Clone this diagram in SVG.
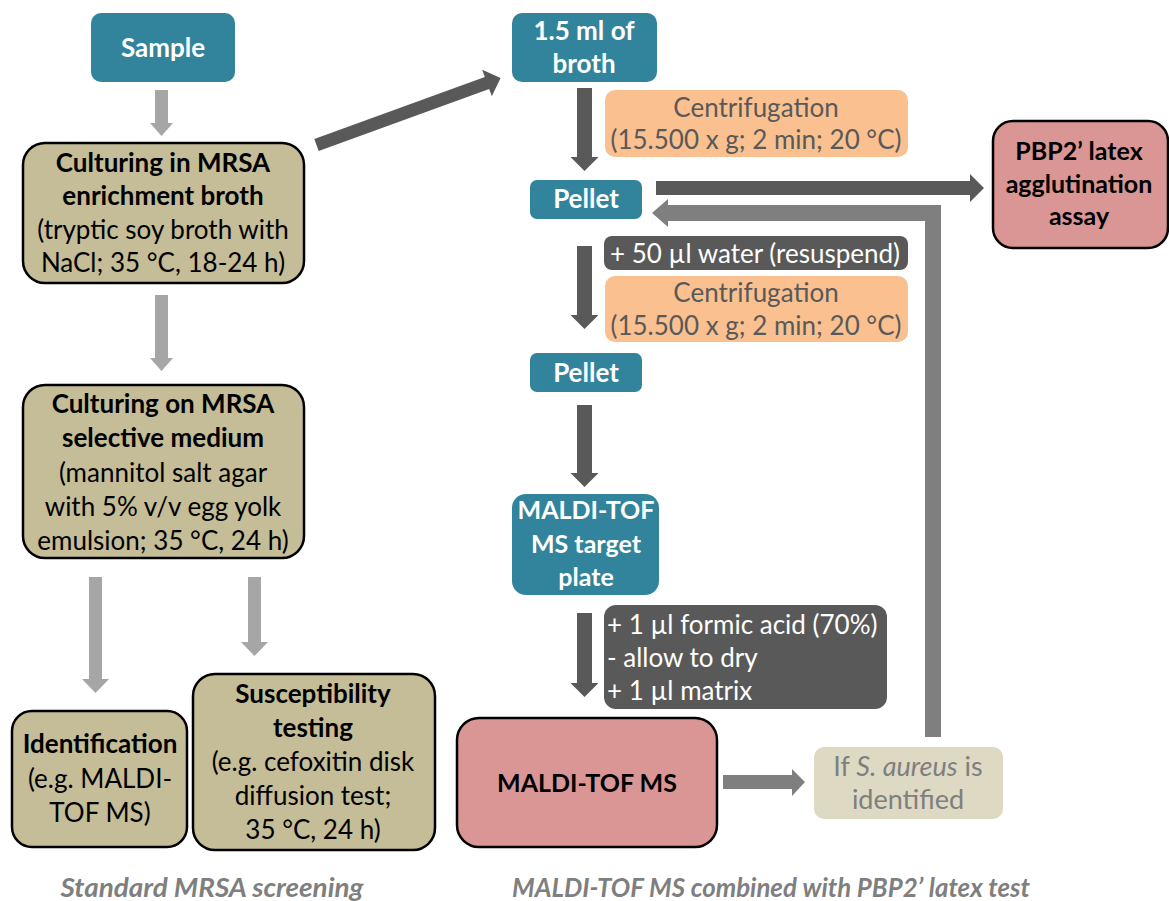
<svg xmlns="http://www.w3.org/2000/svg" width="1169" height="901" viewBox="0 0 1169 901">
<style>
text{font-family:Lato,"Open Sans","Liberation Sans",sans-serif;font-size:26px;text-anchor:middle}
.b{font-weight:bold}
.b25{font-weight:bold;font-size:25px}
.w{fill:#fff}
.k{fill:#000}
.g{fill:#595959}
.lg{fill:#7f7f7f;font-size:27px}
.teal{fill:#31849b}
.tan{fill:#c4bd97;stroke:#000;stroke-width:2.5}
.pink{fill:#d99694;stroke:#000;stroke-width:2.5}
.orange{fill:#fac090}
.dark{fill:#595959}
.cream{fill:#ddd9c3}
.a1{fill:#a6a6a6}
.a2{fill:#595959}
.a3{fill:#7f7f7f}
.foot{font-weight:bold;font-style:italic;fill:#7f7f7f;font-size:27px}
</style>
<g id="connectors">
<polygon class="a1" points="155,90 168,90 168,123 173,123 161.5,136 150,123 155,123"/>
<polygon class="a1" points="155,295 168,295 168,358 173,358 161.5,371 150,358 155,358"/>
<polygon class="a1" points="89,577 102,577 102,679 109,679 95.5,693 82,679 89,679"/>
<polygon class="a1" points="248,577 261,577 261,642 268,642 254.5,656 241,642 248,642"/>
<polygon class="a2" points="314.3,138.9 484.8,76.9 482.2,69.8 500.6,78 491.8,96.2 489.2,89.1 318.7,151.1"/>
<polygon class="a2" points="577,88 592,88 592,157 598.5,157 584.5,171 570.5,157 577,157"/>
<polygon class="a2" points="577,246 592,246 592,315 598.5,315 584.5,329 570.5,315 577,315"/>
<polygon class="a2" points="577,405 592,405 592,473 598.5,473 584.5,487 570.5,473 577,473"/>
<polygon class="a2" points="577,613 592,613 592,683 598.5,683 584.5,697 570.5,683 577,683"/>
<polygon class="a2" points="656,181 970,181 970,174 984,188 970,202 970,195 656,195"/>
<polygon class="a3" points="941,737 941,205 668,205 668,199 652,213 668,227 668,221 925,221 925,737"/>
<polygon class="a3" points="723,775 792,775 792,769 805,782 792,796 792,789 723,789"/>
</g>
<g id="sample">
<rect class="teal" x="91" y="13" width="144" height="69" rx="10"/>
<text class="b w" x="163" y="57">Sample</text>
</g>
<g id="enrichment">
<rect class="tan" x="23" y="143" width="281" height="140" rx="22"/>
<text class="b k" x="163" y="172">Culturing in MRSA</text>
<text class="b k" x="163" y="205">enrichment broth</text>
<text class="k" x="163" y="239">(tryptic soy broth with</text>
<text class="k" x="163" y="272">NaCl; 35 °C, 18-24 h)</text>
</g>
<g id="selective">
<rect class="tan" x="23" y="385" width="281" height="173" rx="22"/>
<text class="b k" x="163" y="413">Culturing on MRSA</text>
<text class="b k" x="163" y="447">selective medium</text>
<text class="k" x="163" y="482">(mannitol salt agar</text>
<text class="k" x="163" y="516">with 5% v/v egg yolk</text>
<text class="k" x="163" y="550">emulsion; 35 °C, 24 h)</text>
</g>
<g id="identification">
<rect class="tan" x="12" y="711" width="175" height="136" rx="20"/>
<text class="b k" x="100" y="753">Identification</text>
<text class="k" x="100" y="788">(e.g. MALDI-</text>
<text class="k" x="100" y="822">TOF MS)</text>
</g>
<g id="susceptibility">
<rect class="tan" x="193" y="674" width="242" height="176" rx="22"/>
<text class="b k" x="313" y="703">Susceptibility</text>
<text class="b k" x="313" y="737">testing</text>
<text class="k" x="313" y="771">(e.g. cefoxitin disk</text>
<text class="k" x="313" y="805">diffusion test;</text>
<text class="k" x="313" y="839">35 °C, 24 h)</text>
</g>
<g id="broth">
<rect class="teal" x="512" y="13" width="145" height="69" rx="10"/>
<text class="b w" x="584" y="40">1.5 ml of</text>
<text class="b w" x="584" y="73">broth</text>
</g>
<g id="centrifugation1">
<rect class="orange" x="605" y="90" width="303" height="67" rx="10"/>
<text class="g" x="756" y="117">Centrifugation</text>
<text class="g" x="756" y="149">(15.500 x g; 2 min; 20 °C)</text>
</g>
<g id="pellet1">
<rect class="teal" x="530" y="180" width="112" height="39" rx="7"/>
<text class="b w" x="586" y="208">Pellet</text>
</g>
<g id="pbp2">
<rect class="pink" x="993" y="121" width="175" height="127" rx="20"/>
<text class="b25 k" x="1079" y="160">PBP2’ latex</text>
<text class="b25 k" x="1079" y="193">agglutination</text>
<text class="b25 k" x="1079" y="225">assay</text>
</g>
<g id="water">
<rect class="dark" x="604" y="236" width="304" height="34" rx="8"/>
<text class="w" x="755" y="263">+ 50 µl water (resuspend)</text>
</g>
<g id="centrifugation2">
<rect class="orange" x="605" y="276" width="303" height="66" rx="10"/>
<text class="g" x="756" y="302">Centrifugation</text>
<text class="g" x="756" y="335">(15.500 x g; 2 min; 20 °C)</text>
</g>
<g id="pellet2">
<rect class="teal" x="530" y="353" width="112" height="39" rx="7"/>
<text class="b w" x="586" y="382">Pellet</text>
</g>
<g id="target">
<rect class="teal" x="512" y="494" width="147" height="101" rx="14"/>
<text class="b25 w" x="586" y="519">MALDI-TOF</text>
<text class="b25 w" x="586" y="553">MS target</text>
<text class="b25 w" x="586" y="586">plate</text>
</g>
<g id="formic">
<rect class="dark" x="604" y="605" width="283" height="104" rx="12"/>
<text class="w" x="607" y="634" style="text-anchor:start">+ 1 µl formic acid (70%)</text>
<text class="w" x="607" y="667" style="text-anchor:start">- allow to dry</text>
<text class="w" x="607" y="700" style="text-anchor:start">+ 1 µl matrix</text>
</g>
<g id="maldi">
<rect class="pink" x="457" y="718" width="260" height="129" rx="22"/>
<text class="b25 k" x="587" y="792">MALDI-TOF MS</text>
</g>
<g id="ifaureus">
<rect class="cream" x="814" y="747" width="189" height="72" rx="10"/>
<text class="lg" x="908" y="776">If <tspan font-style="italic">S. aureus</tspan> is</text>
<text class="lg" x="908" y="809">identified</text>
</g>
<g id="footers">
<text class="foot" x="212" y="897" textLength="303" lengthAdjust="spacingAndGlyphs">Standard MRSA screening</text>
<text class="foot" x="771" y="897" textLength="518" lengthAdjust="spacingAndGlyphs">MALDI-TOF MS combined with PBP2’ latex test</text>
</g>
</svg>
